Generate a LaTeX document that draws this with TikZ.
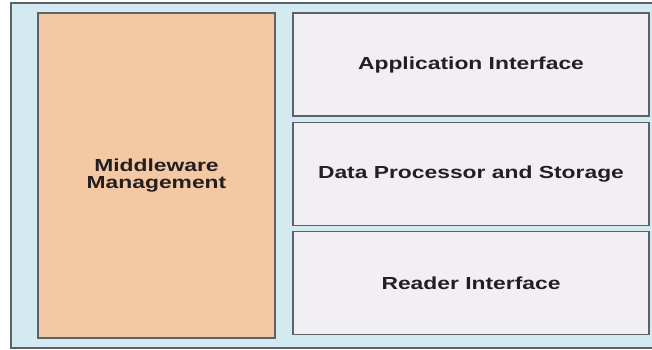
\documentclass[tikz,border=0pt]{standalone}
\usepackage{fontspec}
\usepackage{tikz}
\usetikzlibrary{positioning}
\newfontfamily\lblfont[FakeStretch=1.31]{Liberation Sans}
\definecolor{frame}{HTML}{D3EAF1}
\definecolor{edge}{HTML}{5C6368}
\definecolor{mgmt}{HTML}{F5C8A4}
\definecolor{layerbg}{HTML}{F2EFF4}
\definecolor{ink}{HTML}{231F20}
\tikzset{
  txt/.style={font=\lblfont\bfseries\fontsize{17.5}{16.5}\selectfont, text=ink, align=center},
  layer/.style={txt, draw=edge, line width=1.2bp, fill=layerbg, minimum width=356bp,
                minimum height=103bp, inner sep=0pt},
  mgmtbox/.style={txt, draw=edge, line width=1.2bp, fill=mgmt, minimum width=237bp,
                  minimum height=325bp, inner sep=0pt},
}
\begin{document}
\begin{tikzpicture}[x=1bp,y=-1bp,node distance=5bp]
  \useasboundingbox (0,0) rectangle (652,349);
  \clip (0,0) rectangle (652,349);
  % outer frame
  \draw[draw=edge, line width=1.4bp, fill=frame] (11,3) rectangle (660,348);
  \node[mgmtbox] (mw) at (156.5,175.5) {Middleware\\Management};
  \node[layer] (app) at (471,64.5) {Application Interface};
  \node[layer,below=of app] (dps) {Data Processor and Storage};
  \node[layer,below=of dps] (rdr) {Reader Interface};
\end{tikzpicture}
\end{document}
